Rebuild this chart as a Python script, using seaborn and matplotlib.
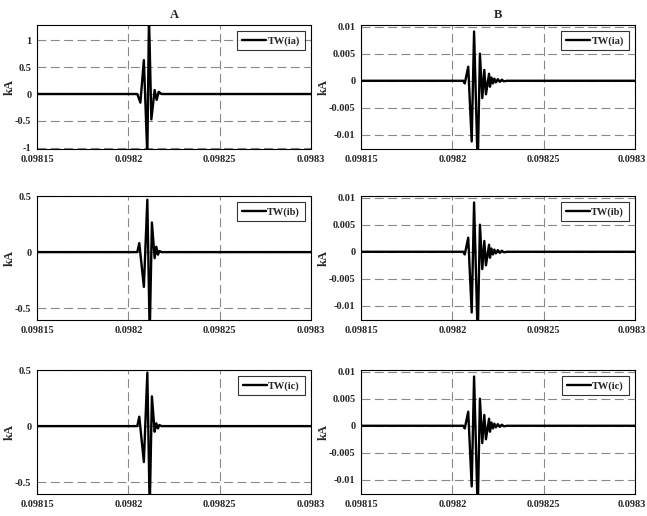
import numpy as np
import pandas as pd
import matplotlib
matplotlib.use("Agg")
import matplotlib.pyplot as plt
import matplotlib.transforms as mtrans
import seaborn as sns
from matplotlib.ticker import FuncFormatter

# Traveling-wave samples (time in s, current in kA)
t_a = [0.09815, 0.0982049, 0.0982066, 0.0982085, 0.0982104, 0.0982113,
       0.0982126, 0.0982144, 0.0982155, 0.0982166, 0.0982182, 0.0983]
ia = [0.0, 0.0, -0.16, 0.63, -1.15, 1.45, -0.47, 0.074, -0.11, 0.04, 0.0, 0.0]

t_bc = [0.09815, 0.0982049, 0.0982060, 0.0982085, 0.0982104, 0.0982117,
        0.0982129, 0.0982144, 0.0982153, 0.0982162, 0.0982170, 0.0982182, 0.0983]
ib = [0.0, 0.0, 0.08, -0.31, 0.467, -0.75, 0.264, -0.054, 0.048, -0.023, 0.01, 0.0, 0.0]
ic = [0.0, 0.0, 0.084, -0.32, 0.477, -0.75, 0.265, -0.05, 0.025, -0.02, 0.01, 0.0, 0.0]

t_b = [0.09815, 0.0982060, 0.0982068, 0.0982087, 0.0982106, 0.0982119,
       0.0982139, 0.0982151, 0.0982164, 0.0982175, 0.0982184, 0.0982201,
       0.0982206, 0.0982214, 0.0982222, 0.0982230, 0.0982238, 0.0982249,
       0.0982260, 0.0982271, 0.0982282, 0.0982300, 0.0983]
b_wave = [0.0, 0.0, -0.0005, 0.0026, -0.0112, 0.0091, -0.016, 0.0050, -0.0032,
          0.0020, -0.0025, 0.0013, -0.0011, 0.0006, -0.0005, 0.0004, -0.0003,
          0.0003, -0.0002, 0.0002, -0.0001, 0.0, 0.0]

panels = [
    ("A", "TW(ia)", t_a, ia, (-1.02, 1.28), [-1, -0.5, 0, 0.5, 1]),
    ("B", "TW(ia)", t_b, b_wave, (-0.0126, 0.0103), [-0.01, -0.005, 0, 0.005, 0.01]),
    ("", "TW(ib)", t_bc, ib, (-0.605, 0.5), [-0.5, 0, 0.5]),
    ("", "TW(ib)", t_b, b_wave, (-0.0126, 0.0103), [-0.01, -0.005, 0, 0.005, 0.01]),
    ("", "TW(ic)", t_bc, ic, (-0.605, 0.5), [-0.5, 0, 0.5]),
    ("", "TW(ic)", t_b, b_wave, (-0.0126, 0.0103), [-0.01, -0.005, 0, 0.005, 0.01]),
]
x_ticks = [0.09815, 0.0982, 0.09825, 0.0983]

sns.set_theme(style="white")
plt.rcParams['font.family'] = ['Liberation Serif', 'DejaVu Serif']
plt.rcParams['font.weight'] = 'bold'

fig = plt.figure(figsize=(6.47, 5.16), dpi=100)
W, H = 647, 516
lefts = [37, 361]
tops = [25, 196, 370]
fmt = FuncFormatter(lambda v, p: "%g" % v)

for i, (title, lab, t, v, ylim, yt) in enumerate(panels):
    r, c = divmod(i, 2)
    l = lefts[c]
    top = tops[r]
    ax = fig.add_axes([l / W, 1 - (top + 124) / H, 274 / W, 124 / H])
    df = pd.DataFrame({"t": t, "kA": v})
    sns.lineplot(data=df, x="t", y="kA", ax=ax, color="black", linewidth=1.7,
                 estimator=None, sort=False, label=lab)
    ax.set_xlim(0.09815, 0.0983)
    ax.set_ylim(*ylim)
    ax.set_xticks(x_ticks)
    ax.set_yticks(yt)
    ax.xaxis.set_major_formatter(fmt)
    ax.yaxis.set_major_formatter(fmt)
    ax.grid(True, color="#888888", linestyle=(0, (8, 4)), linewidth=0.8)
    ax.tick_params(labelsize=7.5, length=0, pad=4)
    for lb in ax.get_xticklabels() + ax.get_yticklabels():
        lb.set_fontweight("bold")
    if c == 1:
        last = ax.get_xticklabels()[-1]
        last.set_ha("right")
        last.set_transform(last.get_transform() +
                           mtrans.ScaledTranslation(11 / 100, 0, fig.dpi_scale_trans))
    for s in ax.spines.values():
        s.set_color("black")
        s.set_linewidth(0.8)
    ax.set_xlabel("")
    ax.set_ylabel("kA", fontsize=9, fontweight="bold")
    ax.yaxis.set_label_coords(-0.078 if c == 0 else -0.115, 0.5)
    if title:
        ax.set_title(title, fontsize=9, fontweight="bold", pad=5)
    leg = ax.legend(loc="upper right", fontsize=7.5, frameon=True, fancybox=False,
                    handlelength=2.3, borderpad=0.45, handletextpad=0.15,
                    borderaxespad=0.6)
    leg.get_frame().set_edgecolor("black")
    leg.get_frame().set_linewidth(0.8)
    for tx in leg.get_texts():
        tx.set_fontweight("bold")

fig.savefig("out.png", dpi=100)
